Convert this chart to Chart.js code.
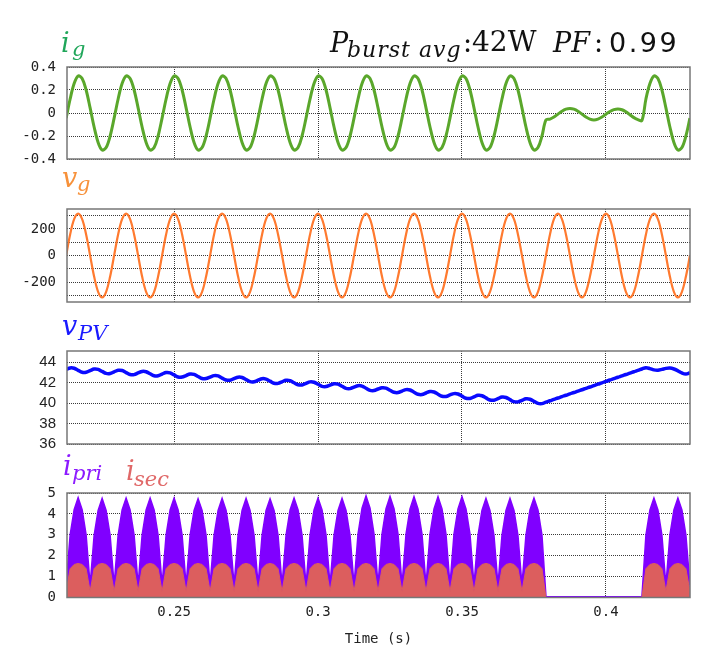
<!DOCTYPE html>
<html>
<head>
<meta charset="utf-8">
<script src="https://cdn.jsdelivr.net/npm/chart.js@4.4.1/dist/chart.umd.min.js"></script>
<style>
html,body{margin:0;padding:0;background:#fff;}
body{width:712px;height:665px;position:relative;overflow:hidden;}
canvas{position:absolute;left:0;z-index:1;}
.t{position:absolute;line-height:1;white-space:nowrap;font-family:'DejaVu Serif';z-index:2;}
.it{font-style:italic;}
</style>
</head>
<body>
<canvas id="c1" width="712" height="132" style="top:47px"></canvas>
<canvas id="c2" width="712" height="133" style="top:189px"></canvas>
<canvas id="c3" width="712" height="133" style="top:331px"></canvas>
<canvas id="c4" width="712" height="192" style="top:473px"></canvas>

<!-- titles -->
<div class="t it" style="left:61px;top:28.7px;font-size:27px;color:#20a65a">i</div>
<div class="t it" style="left:72px;top:39.2px;font-size:21px;color:#20a65a">g</div>

<div class="t it" style="left:330px;top:28.9px;font-size:27px;color:#111">P</div>
<div class="t it" style="left:347px;top:38.9px;font-size:22px;letter-spacing:1px;color:#111">burst avg</div>
<div class="t" style="left:463px;top:28.9px;font-size:27px;color:#111">:</div>
<div class="t" style="left:472px;top:28.2px;font-size:28px;color:#111">42W</div>
<div class="t it" style="left:553px;top:28.9px;font-size:27px;color:#111">PF</div>
<div class="t" style="left:594px;top:28.9px;font-size:27px;color:#111">:</div>
<div class="t" style="left:609px;top:28.9px;font-size:27px;letter-spacing:2.5px;font-family:'DejaVu Sans';color:#111">0.99</div>

<div class="t it" style="left:62px;top:163.7px;font-size:27px;color:#f7913a">v</div>
<div class="t it" style="left:77px;top:174.2px;font-size:21px;color:#f7913a">g</div>

<div class="t it" style="left:62px;top:312.2px;font-size:27px;color:#1a1aff">v</div>
<div class="t it" style="left:78px;top:323.2px;font-size:21px;color:#1a1aff">PV</div>

<div class="t it" style="left:63px;top:452.2px;font-size:27px;color:#8c1aff">i</div>
<div class="t it" style="left:72px;top:463.2px;font-size:21px;color:#8c1aff">pri</div>
<div class="t it" style="left:126px;top:457.2px;font-size:27px;color:#e06868">i</div>
<div class="t it" style="left:134px;top:469.2px;font-size:21px;color:#e06868">sec</div>

<script>
// ---------------- DATA ----------------
const timeS = [
0.21250,0.21389,0.21528,0.21667,0.21806,0.21944,0.22083,0.22222,0.22361,0.22500,0.22639,0.22778,
0.22917,0.23056,0.23194,0.23333,0.23472,0.23611,0.23750,0.23889,0.24028,0.24167,0.24306,0.24444,
0.24583,0.24722,0.24861,0.25000,0.25139,0.25278,0.25417,0.25556,0.25694,0.25833,0.25972,0.26111,
0.26250,0.26389,0.26528,0.26667,0.26806,0.26944,0.27083,0.27222,0.27361,0.27500,0.27639,0.27778,
0.27917,0.28056,0.28194,0.28333,0.28472,0.28611,0.28750,0.28889,0.29028,0.29167,0.29306,0.29444,
0.29583,0.29722,0.29861,0.30000,0.30139,0.30278,0.30417,0.30556,0.30694,0.30833,0.30972,0.31111,
0.31250,0.31389,0.31528,0.31667,0.31806,0.31944,0.32083,0.32222,0.32361,0.32500,0.32639,0.32778,
0.32917,0.33056,0.33194,0.33333,0.33472,0.33611,0.33750,0.33889,0.34028,0.34167,0.34306,0.34444,
0.34583,0.34722,0.34861,0.35000,0.35139,0.35278,0.35417,0.35556,0.35694,0.35833,0.35972,0.36111,
0.36250,0.36389,0.36528,0.36667,0.36806,0.36944,0.37083,0.37222,0.37361,0.37500,0.37639,0.37778,
0.37917,0.38056,0.38194,0.38333,0.38472,0.38611,0.38750,0.38889,0.39028,0.39167,0.39306,0.39444,
0.39583,0.39722,0.39861,0.40000,0.40139,0.40278,0.40417,0.40556,0.40694,0.40833,0.40972,0.41111,
0.41250,0.41389,0.41528,0.41667,0.41806,0.41944,0.42083,0.42222,0.42361,0.42500,0.42639,0.42778,
0.42917
];

// grid current i_g (A)
const igA = [
-0.045,0.122,0.256,0.322,0.301,0.2,0.045,-0.122,-0.256,-0.322,-0.301,-0.2,
-0.045,0.122,0.256,0.322,0.301,0.2,0.045,-0.122,-0.256,-0.322,-0.301,-0.2,
-0.045,0.122,0.256,0.322,0.301,0.2,0.045,-0.122,-0.256,-0.322,-0.301,-0.2,
-0.045,0.122,0.256,0.322,0.301,0.2,0.045,-0.122,-0.256,-0.322,-0.301,-0.2,
-0.045,0.122,0.256,0.322,0.301,0.2,0.045,-0.122,-0.256,-0.322,-0.301,-0.2,
-0.045,0.122,0.256,0.322,0.301,0.2,0.045,-0.122,-0.256,-0.322,-0.301,-0.2,
-0.045,0.122,0.256,0.322,0.301,0.2,0.045,-0.122,-0.256,-0.322,-0.301,-0.2,
-0.045,0.122,0.256,0.322,0.301,0.2,0.045,-0.122,-0.256,-0.322,-0.301,-0.2,
-0.045,0.122,0.256,0.322,0.301,0.2,0.045,-0.122,-0.256,-0.322,-0.301,-0.2,
-0.045,0.122,0.256,0.322,0.301,0.2,0.045,-0.122,-0.256,-0.322,-0.301,-0.2,
-0.06,-0.053,-0.035,-0.01,0.015,0.033,0.04,0.033,0.015,-0.01,-0.035,-0.053,
-0.06,-0.053,-0.035,-0.01,0.013,0.029,0.035,0.028,0.01,-0.015,-0.04,-0.058,
-0.065,0.122,0.256,0.322,0.301,0.2,0.045,-0.122,-0.256,-0.322,-0.301,-0.2,
-0.045
];

// grid voltage v_g (V)
const vgV = [
0,158,273,315,273,158,0,-158,-273,-315,-273,-158,
0,158,273,315,273,158,0,-158,-273,-315,-273,-158,
0,158,273,315,273,158,0,-158,-273,-315,-273,-158,
0,158,273,315,273,158,0,-158,-273,-315,-273,-158,
0,158,273,315,273,158,0,-158,-273,-315,-273,-158,
0,158,273,315,273,158,0,-158,-273,-315,-273,-158,
0,158,273,315,273,158,0,-158,-273,-315,-273,-158,
0,158,273,315,273,158,0,-158,-273,-315,-273,-158,
0,158,273,315,273,158,0,-158,-273,-315,-273,-158,
0,158,273,315,273,158,0,-158,-273,-315,-273,-158,
0,158,273,315,273,158,0,-158,-273,-315,-273,-158,
0,158,273,315,273,158,0,-158,-273,-315,-273,-158,
0,158,273,315,273,158,0,-158,-273,-315,-273,-158,
0
];

// PV voltage v_PV (V)
const vpvV = [
43.29,43.44,43.41,43.21,43.02,43.02,43.18,43.33,43.30,43.10,42.91,42.90,
43.06,43.21,43.19,42.99,42.80,42.79,42.95,43.10,43.07,42.87,42.68,42.68,
42.84,42.99,42.96,42.76,42.56,42.55,42.70,42.85,42.81,42.61,42.41,42.40,
42.55,42.69,42.66,42.45,42.26,42.24,42.40,42.54,42.51,42.30,42.10,42.09,
42.24,42.39,42.35,42.15,41.95,41.93,42.09,42.23,42.20,41.99,41.80,41.78,
41.94,42.08,42.04,41.84,41.64,41.62,41.76,41.90,41.86,41.65,41.44,41.42,
41.57,41.71,41.67,41.45,41.25,41.23,41.38,41.51,41.47,41.26,41.06,41.03,
41.18,41.32,41.28,41.07,40.87,40.84,40.99,41.13,41.09,40.87,40.67,40.65,
40.80,40.93,40.89,40.68,40.48,40.46,40.61,40.76,40.72,40.51,40.31,40.29,
40.44,40.59,40.55,40.34,40.14,40.12,40.27,40.42,40.38,40.17,39.97,39.95,
40.10,40.23,40.37,40.50,40.64,40.77,40.91,41.04,41.18,41.31,41.45,41.58,
41.72,41.85,41.99,42.12,42.26,42.39,42.53,42.66,42.80,42.93,43.07,43.20,
43.34,43.47,43.38,43.25,43.22,43.30,43.40,43.43,43.34,43.16,42.95,42.85,
42.97
];

// primary current envelope i_pri (A)
const ipriA = [
0.6,3.00,4.20,4.78,4.20,3.00, 0.6,2.98,4.17,4.74,4.17,2.98,
0.6,2.99,4.19,4.76,4.19,2.99, 0.6,2.99,4.19,4.76,4.19,2.99,
0.6,2.99,4.19,4.76,4.19,2.99, 0.6,2.97,4.16,4.72,4.16,2.97,
0.6,2.98,4.17,4.74,4.17,2.98, 0.6,2.98,4.17,4.74,4.17,2.98,
0.6,2.97,4.16,4.72,4.16,2.97, 0.6,2.99,4.19,4.76,4.19,2.99,
0.6,2.99,4.19,4.76,4.19,2.99, 0.6,2.98,4.17,4.74,4.17,2.98,
0.6,3.05,4.27,4.86,4.27,3.05, 0.6,3.04,4.25,4.84,4.25,3.04,
0.6,3.03,4.24,4.82,4.24,3.03, 0.6,3.03,4.24,4.82,4.24,3.03,
0.6,3.03,4.24,4.82,4.24,3.03, 0.6,2.98,4.17,4.74,4.17,2.98,
0.6,2.98,4.17,4.74,4.17,2.98, 0.6,2.99,4.19,4.76,4.19,2.99,
0.04,0.04,0.04,0.04,0.04,0.04, 0.04,0.04,0.04,0.04,0.04,0.04,
0.04,0.04,0.04,0.04,0.04,0.04, 0.04,0.04,0.04,0.04,0.04,0.04,
0.04,2.99,4.19,4.76,4.19,2.99, 0.6,2.99,4.19,4.76,4.19,2.99,
0.6
];

// secondary current envelope i_sec (A)
const isecA = [
0.3,1.38,1.58,1.63,1.58,1.38, 0.3,1.38,1.58,1.63,1.58,1.38,
0.3,1.38,1.58,1.63,1.58,1.38, 0.3,1.38,1.58,1.63,1.58,1.38,
0.3,1.38,1.58,1.63,1.58,1.38, 0.3,1.38,1.58,1.63,1.58,1.38,
0.3,1.38,1.58,1.63,1.58,1.38, 0.3,1.38,1.58,1.63,1.58,1.38,
0.3,1.38,1.58,1.63,1.58,1.38, 0.3,1.38,1.58,1.63,1.58,1.38,
0.3,1.38,1.58,1.63,1.58,1.38, 0.3,1.38,1.58,1.63,1.58,1.38,
0.3,1.38,1.58,1.63,1.58,1.38, 0.3,1.38,1.58,1.63,1.58,1.38,
0.3,1.38,1.58,1.63,1.58,1.38, 0.3,1.38,1.58,1.63,1.58,1.38,
0.3,1.38,1.58,1.63,1.58,1.38, 0.3,1.38,1.58,1.63,1.58,1.38,
0.3,1.38,1.58,1.63,1.58,1.38, 0.3,1.38,1.58,1.63,1.58,1.38,
0,0,0,0,0,0, 0,0,0,0,0,0,
0,0,0,0,0,0, 0,0,0,0,0,0,
0,1.38,1.58,1.63,1.58,1.38, 0.3,1.38,1.58,1.63,1.58,1.38,
0.3
];

// axis ticks & labels
const xTicks = [0.25, 0.3, 0.35, 0.4];
const xTickLabels = ['0.25', '0.3', '0.35', '0.4'];
const igTicks = [-0.4, -0.2, 0, 0.2, 0.4];
const igTickLabels = ['-0.4', '-0.2', '0', '0.2', '0.4'];
const vgTicks = [-300, -200, -100, 0, 100, 200, 300];
const vgTickLabels = ['', '-200', '', '0', '', '200', ''];
const vpvTicks = [36, 38, 40, 42, 44];
const vpvTickLabels = ['36', '38', '40', '42', '44'];
const iTicks = [0, 1, 2, 3, 4, 5];
const iTickLabels = ['0', '1', '2', '3', '4', '5'];

// ---------------- CHARTS ----------------
const X_MIN = 0.2128, X_MAX = 0.4292;
const GRID = '#3a3a3a';
const MONO = {family: 'DejaVu Sans Mono', size: 14};

const frame = {
  id: 'frame',
  afterDraw(chart) {
    const {ctx, chartArea: a} = chart;
    ctx.save();
    ctx.setLineDash([]);
    ctx.strokeStyle = '#777';
    ctx.lineWidth = 1.5;
    ctx.strokeRect(a.left, a.top, a.right - a.left, a.bottom - a.top);
    ctx.restore();
  }
};

function series(arr) { return timeS.map((t, i) => ({x: t, y: arr[i]})); }

function makeChart(id, datasets, y, bottom) {
  return new Chart(document.getElementById(id), {
    type: 'line',
    data: {datasets},
    options: {
      responsive: false,
      animation: false,
      events: [],
      layout: {padding: {left: 0, right: 22, top: 20, bottom: bottom ? 10 : 20}},
      plugins: {legend: {display: false}, tooltip: {enabled: false}},
      elements: {point: {radius: 0}},
      scales: {
        x: {
          type: 'linear', min: X_MIN, max: X_MAX,
          afterBuildTicks: s => { s.ticks = xTicks.map(v => ({value: v})); },
          afterFit: s => { s.height = bottom ? 57.5 : 0; },
          grid: {color: GRID, lineWidth: 1, drawTicks: false},
          border: {display: false, dash: [1, 1]},
          ticks: {display: !!bottom, autoSkip: false, maxRotation: 0, padding: 6,
                  color: '#222', font: MONO, callback: (v, i) => xTickLabels[i]},
          title: {display: !!bottom, text: 'Time (s)', color: '#222', font: MONO,
                  padding: {top: 0, bottom: 7}}
        },
        y: {
          min: y.min, max: y.max,
          afterBuildTicks: s => { s.ticks = y.ticks.map(v => ({value: v})); },
          afterFit: s => { s.width = 67; },
          grid: {color: GRID, lineWidth: 1, drawTicks: false},
          border: {display: false, dash: [1, 1]},
          ticks: {autoSkip: false, padding: 11, color: '#222', font: y.font,
                  callback: (v, i) => y.labels[i]}
        }
      }
    },
    plugins: [frame]
  });
}

makeChart('c1', [
  {data: series(igA), borderColor: '#5aa72b', borderWidth: 3, tension: 0.35, fill: false}
], {min: -0.4, max: 0.4, ticks: igTicks, labels: igTickLabels, font: MONO});

makeChart('c2', [
  {data: series(vgV), borderColor: '#ff7a2f', borderWidth: 2.2, tension: 0.35, fill: false}
], {min: -350, max: 350, ticks: vgTicks, labels: vgTickLabels, font: MONO});

makeChart('c3', [
  {data: series(vpvV), borderColor: '#0a0aff', borderWidth: 3.5, tension: 0.35, fill: false}
], {min: 36, max: 45.1, ticks: vpvTicks, labels: vpvTickLabels,
    font: {family: 'Liberation Sans', size: 15}});

makeChart('c4', [
  {data: series(isecA), borderColor: '#dc5e5e', backgroundColor: '#dc5e5e', borderWidth: 1,
   tension: 0, fill: 'origin'},
  {data: series(ipriA), borderColor: '#8000ff', backgroundColor: '#8000ff', borderWidth: 1.5,
   tension: 0, fill: 'origin'}
], {min: 0, max: 5, ticks: iTicks, labels: iTickLabels, font: MONO}, true);
</script>
</body>
</html>
